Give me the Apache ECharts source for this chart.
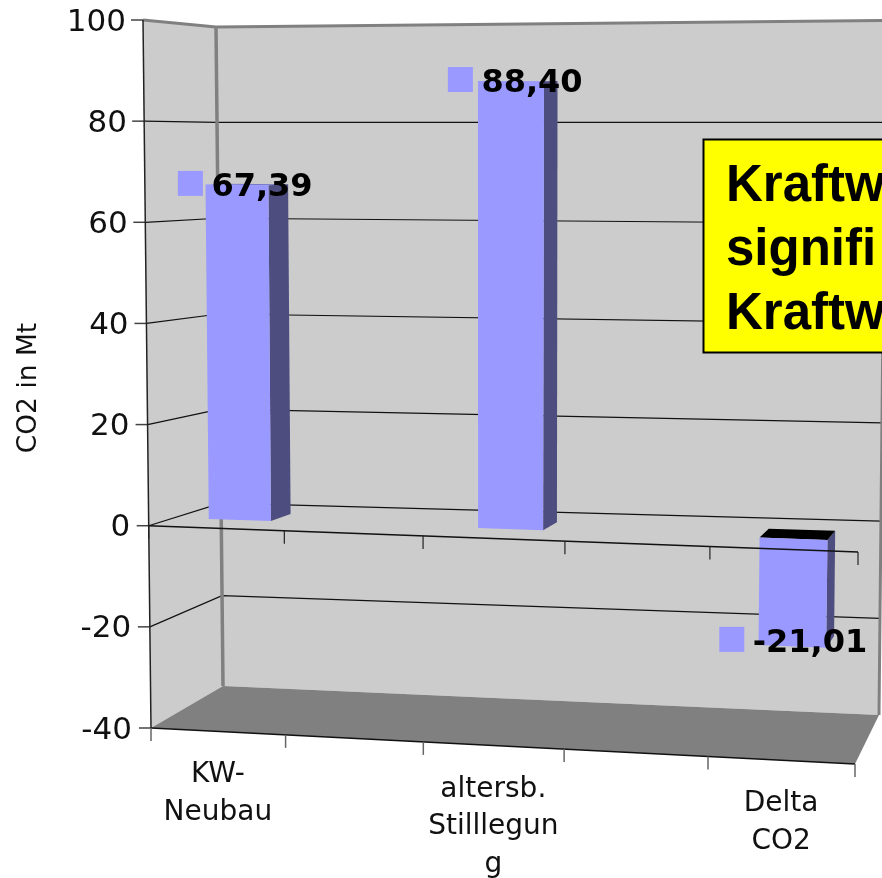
<!DOCTYPE html>
<html lang="de">
<head>
    <meta charset="UTF-8">
    <title>CO2 in Mt</title>
    <script src="https://cdn.jsdelivr.net/npm/echarts@6/dist/echarts.min.js"></script>
    <style>
        *{
            padding:0;
            margin:0;
        }
        #main{
            width:882px;
            height:878px;
        }
    </style>
</head>
<body>
    <div id="main"></div>
    <script>
        var categories=["KW-\nNeubau","","altersb.\nStilllegun\ng","","Delta\nCO2"]
        var co2Values=[67.39,null,88.40,null,-21.01]
        var yTicks=[100,80,60,40,20,0,-20,-40]
        var boxLines=["Kraftw","signifi","Kraftw"]

        var FONT="DejaVu Sans"
        var WALL="#cccccc",FLOOR="#808080",EDGE="#808080"
        var BAR_FRONT="#9999ff",BAR_SIDE="#4d4d80"
        var DEPTH_FRONT=0.35,DEPTH_BACK=0.65,BAR_HALF=0.047
        var LABEL_SHIFT={0:-59,2:-63,4:-73}//value label sits left of the bar centre

        // 3D box of the Excel chart: a = along categories 0..1, d = depth 0..1, t = top to bottom 0..1
        function project(a,d,t){
            var u=a-0.055*a*(1-a)//perspective makes the right categories wider
            var fl=[143+8*t,20+708*t]
            var fr=[865.5-10.5*t,22+742*t]
            var bl=[216+7*t,27+665.5*t+22*t*t-28.5*t*t*t]
            var br=[886-7*t,20.5+717*t-22.6*t*t]
            return [0,1].map(function(i){
                return (1-u)*((1-d)*fl[i]+d*bl[i])+u*((1-d)*fr[i]+d*br[i])
            })
        }
        function line(points,color,width){
            return {type:"polyline",shape:{points:points},style:{stroke:color,lineWidth:width,fill:null}}
        }
        function poly(points,color){
            return {type:"polygon",shape:{points:points},style:{fill:color}}
        }
        function rel(params,api,index,value){
            var c=api.coord([index,value]),s=params.coordSys
            return {a:(c[0]-s.x)/s.width,t:(c[1]-s.y)/s.height}
        }

        function renderBox(params,api){
            var children=[
                poly([project(0,0,0),project(0,1,0),project(0,1,1),project(0,0,1)],WALL),
                poly([project(0,1,0),project(1,1,0),project(1,1,1),project(0,1,1)],WALL),
                poly([project(0,1,1),project(1,1,1),project(1,0,1),project(0,0,1)],FLOOR)
            ]
            yTicks.forEach(function(v){
                var t=rel(params,api,0,v).t
                var p=project(0,0,t)
                children.push(line([[p[0]-12,p[1]],p],"#444",1.5))
                if(v===100){
                    children.push(line([p,project(0,1,t),project(1,1,t)],EDGE,3))
                }else if(v!==-40){
                    children.push(line([p,project(0,1,t),project(1,1,t)],"#111",1.2))
                }
            })
            children.push(line([project(0,1,0),project(0,1,1)],EDGE,3.5))
            children.push(line([project(1,1,0),project(1,1,1)],EDGE,3))
            children.push(line([project(0,0,0),project(0,0,1)],"#222",1.5))
            // front edge of the floor with its ticks
            children.push(line([project(0,0,1),project(1,0,1)],"#111",1.5))
            categories.concat([""]).forEach(function(c,i){
                var p=project(i/categories.length,0,1)
                children.push(line([p,[p[0],p[1]+13]],"#666",1.5))
            })
            return {type:"group",children:children}
        }

        function renderBar(params,api){
            var i=api.value(0),v=api.value(1)
            var pos=rel(params,api,i,v)
            var zeroT=rel(params,api,i,0).t
            var a0=pos.a-BAR_HALF,a1=pos.a+BAR_HALF
            var top=Math.min(pos.t,zeroT),bottom=Math.max(pos.t,zeroT)
            return {type:"group",children:[
                poly([project(a1,DEPTH_FRONT,top),project(a1,DEPTH_BACK,top),project(a1,DEPTH_BACK,bottom),project(a1,DEPTH_FRONT,bottom)],BAR_SIDE),
                poly([project(a0,DEPTH_FRONT,top),project(a0,DEPTH_BACK,top),project(a1,DEPTH_BACK,top),project(a1,DEPTH_FRONT,top)],v<0?"#000":"#7a7acc"),
                poly([project(a0,DEPTH_FRONT,top),project(a1,DEPTH_FRONT,top),project(a1,DEPTH_FRONT,bottom),project(a0,DEPTH_FRONT,bottom)],BAR_FRONT)
            ]}
        }

        // axis at value 0 runs in front of the bars
        function renderZeroAxis(params,api){
            var t=rel(params,api,0,0).t
            var children=[line([project(0,0,t),project(1,0,t)],"#111",1.5)]
            categories.concat([""]).forEach(function(c,i){
                var p=project(i/categories.length,0,t)
                children.push(line([p,[p[0],p[1]+13]],"#222",1.2))
            })
            return {type:"group",children:children}
        }

        function renderCategoryLabel(params,api){
            var i=api.value(0)
            var p=project(rel(params,api,i,-40).a,0,1)
            return {type:"text",style:{
                text:categories[i],x:p[0],y:p[1]+25,align:"center",verticalAlign:"top",
                fontFamily:FONT,fontSize:28,lineHeight:37.5,fill:"#111"
            }}
        }

        function renderValueLabel(params,api){
            var i=api.value(0),v=api.value(1)
            var pos=rel(params,api,i,v)
            var p=project(pos.a,DEPTH_FRONT,pos.t)
            var text=v.toFixed(2).replace(".",",")
            var left=p[0]+LABEL_SHIFT[i]
            var y=p[1]+(v<0?-7:-1.5)
            return {type:"group",children:[
                {type:"rect",shape:{x:left,y:y-12.5,width:25,height:25},style:{fill:BAR_FRONT}},
                {type:"text",style:{
                    text:text,x:left+33.5,y:y+4,align:"left",verticalAlign:"middle",
                    fontFamily:FONT,fontSize:32,fontWeight:"bold",fill:"#000"
                }}
            ]}
        }

        var barData=co2Values.map(function(v,i){return [i,v]}).filter(function(d){return d[1]!==null})

        var rich={}
        yTicks.forEach(function(v){
            rich["t"+(v+40)]={fontFamily:FONT,fontSize:31,color:"#111",padding:[5,6*(v+40)/140,0,0]}
        })

        var option={
            animation:false,
            backgroundColor:"#fff",
            grid:{left:147,right:22,top:20,bottom:150},
            xAxis:{
                type:"category",
                data:categories,
                axisLine:{show:false},
                axisTick:{show:false},
                axisLabel:{show:false},
            },
            yAxis:{
                type:"value",
                min:-40,
                max:100,
                interval:20,
                name:"CO2 in Mt",
                nameLocation:"middle",
                nameGap:104,
                nameTextStyle:{fontFamily:FONT,fontSize:26.5,color:"#111",padding:[0,28,0,0]},
                axisLine:{show:false},
                axisTick:{show:false},
                splitLine:{show:false},
                axisLabel:{
                    margin:15,
                    formatter:function(v){return "{t"+(v+40)+"|"+v+"}"},
                    rich:rich,
                },
            },
            series:[
                {type:"custom",z:1,clip:false,silent:true,data:[[0,0]],renderItem:renderBox},
                {type:"custom",z:2,clip:false,silent:true,data:barData,renderItem:renderBar},
                {type:"custom",z:3,clip:false,silent:true,data:[[0,0]],renderItem:renderZeroAxis},
                {type:"custom",z:4,clip:false,silent:true,data:barData,renderItem:renderCategoryLabel},
                {type:"custom",z:4,clip:false,silent:true,data:barData,renderItem:renderValueLabel},
            ],
            graphic:[
                {
                    type:"rect",z:5,
                    shape:{x:703.5,y:139.5,width:200,height:213},
                    style:{fill:"#ffff00",stroke:"#000",lineWidth:2},
                },
                {
                    type:"text",z:6,x:726,y:155,
                    style:{
                        text:boxLines.join("\n"),
                        fontFamily:"Liberation Sans",fontSize:51,fontWeight:"bold",lineHeight:64,fill:"#000",
                    },
                },
            ],
        }

        var myCharts=echarts.init(document.getElementById("main"))
        myCharts.setOption(option)
    </script>
</body>
</html>
